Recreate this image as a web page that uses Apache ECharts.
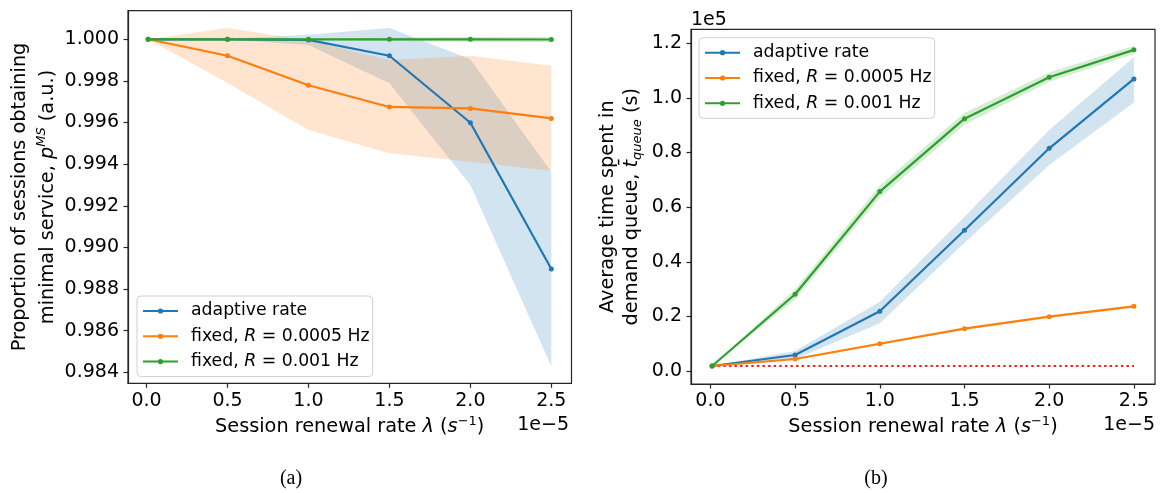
<!DOCTYPE html>
<html>
<head>
<meta charset="utf-8">
<script src="https://cdn.jsdelivr.net/npm/echarts@6/dist/echarts.min.js"></script>
<style>
html,body{margin:0;padding:0;background:#fff;}
#c{width:1163px;height:493px;}
</style>
</head>
<body>
<div id="c"></div>
<script>
// ---------- data ----------
const lambdas = [1e-7, 5e-6, 1e-5, 1.5e-5, 2e-5, 2.5e-5];
const xTicks = [0, 5e-6, 1e-5, 1.5e-5, 2e-5, 2.5e-5];
const yTicksA = [0.984, 0.986, 0.988, 0.990, 0.992, 0.994, 0.996, 0.998, 1.000];
const yTicksB = [0, 20000, 40000, 60000, 80000, 100000, 120000];
const seriesNames = ['adaptive rate', 'fixed, R = 0.0005 Hz', 'fixed, R = 0.001 Hz'];

// (a) proportion of sessions obtaining minimal service
const pAdaptive    = [1.0, 1.0,     0.99997, 0.99921, 0.99599, 0.98896];
const pAdaptiveLo  = [1.0, 0.99999, 0.99973, 0.99789, 0.99300, 0.98429];
const pAdaptiveHi  = [1.0, 1.00001, 1.00022, 1.00054, 0.99904, 0.99363];
const pFixed5      = [1.0, 0.99921, 0.99779, 0.99675, 0.99668, 0.99620];
const pFixed5Lo    = [1.0, 0.99790, 0.99564, 0.99452, 0.99412, 0.99369];
const pFixed5Hi    = [1.0, 1.00054, 0.99994, 0.99901, 0.99921, 0.99873];
const pFixed10     = [1.0, 1.0,     1.0,     1.0,     1.0,     0.99999];
const pFixed10Lo   = [1.0, 0.99999, 0.99997, 0.99992, 0.99988, 0.99987];
const pFixed10Hi   = [1.0, 1.00001, 1.00003, 1.00008, 1.00012, 1.00011];

// (b) average time spent in demand queue (s)
const tAdaptive    = [1830, 5860, 21870, 51530, 81560, 106960];
const tAdaptiveLo  = [1830, 4400, 17500, 47000, 75400, 98300];
const tAdaptiveHi  = [1830, 7300, 25400, 56500, 88300, 114900];
const tFixed5      = [1830, 4400, 10000, 15500, 19900, 23700];
const tFixed5Lo    = [1830, 4000, 9600, 15100, 19500, 23300];
const tFixed5Hi    = [1830, 4800, 10400, 15900, 20300, 24100];
const tFixed10     = [1830, 28100, 65700, 92400, 107600, 117600];
const tFixed10Lo   = [1830, 26300, 63500, 90200, 105900, 116100];
const tFixed10Hi   = [1830, 29900, 67900, 94600, 109300, 119100];
const tMinimum     = [1830, 1830];
const tMinimumX    = [1e-7, 2.5e-5];

// ---------- styling ----------
const C = ['#1f77b4', '#ff7f0e', '#2ca02c'];
const FONT = 'DejaVu Sans';
const FS_TICK = 19;
const FS_LABEL = 19.3;
const FS_LEG = 17.3;
const AX = '#262626';

function pairs(xs, ys) { return xs.map((x, i) => [x, ys[i]]); }

function lineSeries(name, k, gi, ys) {
  return {
    type: 'line', name: name, xAxisIndex: gi, yAxisIndex: gi,
    data: pairs(lambdas, ys), z: 5 + k,
    symbol: 'circle', symbolSize: 5, showSymbol: true,
    lineStyle: { color: C[k], width: 2.2 }, itemStyle: { color: C[k] },
    emphasis: { disabled: true }, animation: false
  };
}

function bandSeries(k, gi, lo, hi) {
  return {
    type: 'custom', xAxisIndex: gi, yAxisIndex: gi, z: 2, silent: true,
    animation: false,
    data: lambdas.map((x, i) => [x, lo[i], hi[i]]),
    encode: { x: 0, y: [1, 2] },
    renderItem: function (params, api) {
      if (params.dataIndex !== 0) return null;
      const pts = [];
      for (let i = 0; i < lambdas.length; i++) pts.push(api.coord([lambdas[i], hi[i]]));
      for (let i = lambdas.length - 1; i >= 0; i--) pts.push(api.coord([lambdas[i], lo[i]]));
      return { type: 'polygon', shape: { points: pts }, style: { fill: C[k], opacity: 0.2 } };
    }
  };
}

function xAxisDef(gi) {
  return {
    type: 'value', gridIndex: gi, min: -1.145e-6, max: 2.6245e-5,
    axisLine: { show: true, onZero: false, lineStyle: { color: AX, width: 1.2 } },
    axisTick: { show: true, inside: false, length: 4.5, lineStyle: { color: AX, width: 1.2 }, customValues: xTicks },
    axisLabel: { show: true, margin: 8, color: '#000', fontFamily: FONT, fontSize: FS_TICK,
      customValues: xTicks, formatter: v => (v * 1e5).toFixed(1) },
    splitLine: { show: false }
  };
}

function yAxisDef(gi, mn, mx, ticks, fmt) {
  return {
    type: 'value', gridIndex: gi, min: mn, max: mx,
    axisLine: { show: true, onZero: false, lineStyle: { color: AX, width: 1.2 } },
    axisTick: { show: true, length: 4.5, lineStyle: { color: AX, width: 1.2 }, customValues: ticks },
    axisLabel: { margin: 9, color: '#000', fontFamily: FONT, fontSize: FS_TICK, customValues: ticks, formatter: fmt },
    splitLine: { show: false }
  };
}

const legendRich = { i: { fontStyle: 'italic', fontFamily: FONT, fontSize: FS_LEG, color: '#000' } };
function legendDef(left, top) {
  return {
    orient: 'vertical', left: left, top: top,
    data: seriesNames, itemWidth: 35, itemHeight: 6.5, itemGap: 5.3,
    padding: [5, 3, 5, 5],
    borderColor: '#d0d0d0', borderWidth: 1, borderRadius: 4, backgroundColor: '#fff',
    selectedMode: false,
    textStyle: { fontFamily: FONT, fontSize: FS_LEG, color: '#000', lineHeight: 20, padding: [0, 0, 0, 8], rich: legendRich },
    formatter: name => name.replace('R', '{i|R}')
  };
}

const titleRich = {
  it: { fontFamily: FONT, fontSize: FS_LABEL, fontStyle: 'italic', color: '#000', lineHeight: 26 },
  sup: { fontFamily: FONT, fontSize: 13, fontStyle: 'italic', color: '#000', verticalAlign: 'top', lineHeight: 26, padding: [1, 0, 0, 0] },
  supn: { fontFamily: FONT, fontSize: 13, color: '#000', verticalAlign: 'top', lineHeight: 26, padding: [1, 0, 0, 0] },
  sub: { fontFamily: FONT, fontSize: 13, fontStyle: 'italic', color: '#000', verticalAlign: 'bottom', lineHeight: 26, padding: [0, 0, 1, 0] }
};

function txt(x, y, text, opts) {
  opts = opts || {};
  return {
    type: 'text', x: x, y: y, rotation: opts.rot || 0, silent: true, z: 100,
    style: {
      text: text, fill: '#000', fontFamily: opts.family || FONT, fontSize: opts.size || FS_LABEL,
      align: opts.align || 'center', verticalAlign: 'middle', lineHeight: 26,
      rich: titleRich
    }
  };
}

const option = {
  backgroundColor: '#fff',
  animation: false,
  grid: [
    { left: 128, top: 10.7, width: 443.5, height: 372.6, show: true, borderColor: AX, borderWidth: 1.2, backgroundColor: 'transparent' },
    { left: 691, top: 29.3, width: 464, height: 354.7, show: true, borderColor: AX, borderWidth: 1.2, backgroundColor: 'transparent' }
  ],
  xAxis: [xAxisDef(0), xAxisDef(1)],
  yAxis: [
    yAxisDef(0, 0.983472, 1.001374, yTicksA, v => v.toFixed(3)),
    yAxisDef(1, -4754, 125130, yTicksB, v => (v / 1e5).toFixed(1))
  ],
  legend: [legendDef(137, 296), legendDef(699, 37.7)],
  series: [
    bandSeries(0, 0, pAdaptiveLo, pAdaptiveHi),
    bandSeries(1, 0, pFixed5Lo, pFixed5Hi),
    bandSeries(2, 0, pFixed10Lo, pFixed10Hi),
    lineSeries(seriesNames[0], 0, 0, pAdaptive),
    lineSeries(seriesNames[1], 1, 0, pFixed5),
    lineSeries(seriesNames[2], 2, 0, pFixed10),
    bandSeries(0, 1, tAdaptiveLo, tAdaptiveHi),
    bandSeries(1, 1, tFixed5Lo, tFixed5Hi),
    bandSeries(2, 1, tFixed10Lo, tFixed10Hi),
    lineSeries(seriesNames[0], 0, 1, tAdaptive),
    lineSeries(seriesNames[1], 1, 1, tFixed5),
    lineSeries(seriesNames[2], 2, 1, tFixed10),
    {
      type: 'line', xAxisIndex: 1, yAxisIndex: 1, z: 4, symbol: 'none', silent: true,
      data: pairs(tMinimumX, tMinimum),
      lineStyle: { color: '#ff1a1a', width: 2.2, type: [2.4, 3.2] }, animation: false
    }
  ],
  graphic: [
    txt(19.5, 197, 'Proportion of sessions obtaining', { rot: Math.PI / 2 }),
    txt(47.5, 197, 'minimal service, {it|p}{sup|MS} (a.u.)', { rot: Math.PI / 2 }),
    txt(607.8, 206.7, 'Average time spent in', { rot: Math.PI / 2 }),
    txt(632, 206.7, 'demand queue, {it|t\u0304}{sub|queue} (s)', { rot: Math.PI / 2 }),
    txt(349.7, 427, 'Session renewal rate {it|λ} ({it|s}{supn|\u22121})'),
    txt(923, 427, 'Session renewal rate {it|λ} ({it|s}{supn|\u22121})'),
    txt(569, 425, '1e\u22125', { align: 'right', size: FS_TICK }),
    txt(1155, 425, '1e\u22125', { align: 'right', size: FS_TICK }),
    txt(691, 20, '1e5', { align: 'left', size: FS_TICK }),
    txt(291, 479, '(a)', { family: 'Liberation Serif', size: 20 }),
    txt(876, 479, '(b)', { family: 'Liberation Serif', size: 20 })
  ]
};

const chart = echarts.init(document.getElementById('c'), null, { renderer: 'canvas' });
chart.setOption(option);
</script>
</body>
</html>
